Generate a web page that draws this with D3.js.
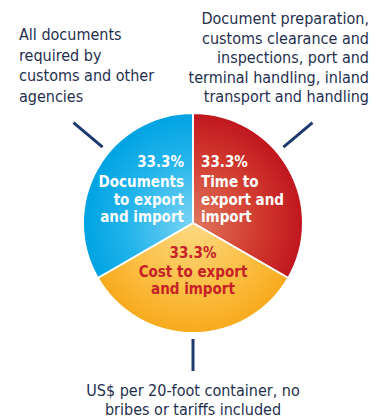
<!DOCTYPE html>
<html>
<head>
<meta charset="utf-8">
<script src="https://cdn.jsdelivr.net/npm/d3@7"></script>
<style>
  html, body { margin: 0; padding: 0; background: #fff; }
  svg { display: block; }
  .note { font-family: "DejaVu Sans Condensed", "DejaVu Sans", sans-serif; font-stretch: condensed; fill: #1f2f4e; font-size: 16px; }
  .slice-label { font-family: "DejaVu Sans Condensed", "DejaVu Sans", sans-serif; font-stretch: condensed; font-weight: bold; font-size: 15px; }
</style>
</head>
<body>
<svg id="chart" width="380" height="418"></svg>
<script>
// Three equally weighted components of the trading-across-borders indicator
const categories = ["Time to export and import", "Cost to export and import", "Documents to export and import"];
const shares = [33.3, 33.3, 33.3];
const sliceLines = [
  ["Time to", "export and", "import"],
  ["Cost to export", "and import"],
  ["Documents", "to export", "and import"]
];
const notes = [
  ["Document preparation,", "customs clearance and", "inspections, port and", "terminal handling, inland", "transport and handling"],
  ["US$ per 20-foot container, no", "bribes or tariffs included"],
  ["All documents", "required by", "customs and other", "agencies"]
];

const W = 380, H = 418;
const cx = 193, cy = 223, R = 110;

const svg = d3.select("#chart");
const defs = svg.append("defs");

// Radial shading per slice: lighter near the hub, saturated at the rim.
// Gradients live in the pie group's coordinates, so the hub is at (0, 0).
const palettes = [
  { id: "g-time", inner: "#e0765c", mid: "#d13a2e", outer: "#c0161f", text: "#ffffff" },
  { id: "g-cost", inner: "#fcd983", mid: "#fbbf45", outer: "#f8aa1c", text: "#c62127" },
  { id: "g-docs", inner: "#7ad3f4", mid: "#22b4eb", outer: "#00a3e3", text: "#ffffff" }
];
palettes.forEach(p => {
  const g = defs.append("radialGradient")
    .attr("id", p.id)
    .attr("gradientUnits", "userSpaceOnUse")
    .attr("cx", 0).attr("cy", 0).attr("r", R);
  g.append("stop").attr("offset", "0%").attr("stop-color", p.inner);
  g.append("stop").attr("offset", "60%").attr("stop-color", p.mid);
  g.append("stop").attr("offset", "100%").attr("stop-color", p.outer);
});

const pie = d3.pie().sort(null).value(d => d);
const arcs = pie(shares);
const arc = d3.arc().innerRadius(0).outerRadius(R);

const g = svg.append("g").attr("transform", `translate(${cx},${cy})`);

g.selectAll("path.slice")
  .data(arcs)
  .join("path")
  .attr("class", "slice")
  .attr("d", arc)
  .attr("fill", (d, i) => `url(#${palettes[i].id})`)
  .attr("stroke", "#ffffff")
  .attr("stroke-width", 2)
  .attr("stroke-linejoin", "round");

// In-slice labels: percentage followed by the category name
const fmt = v => v.toFixed(1) + "%";
const labelLayout = [
  { anchor: "start", dx: 8, dy: -56 },
  { anchor: "middle", dx: 0, dy: 35 },
  { anchor: "end", dx: -9, dy: -56 }
];
const lineSteps = [
  [0, 19.5, 37.5, 55],
  [0, 18.5, 35.5],
  [0, 19.5, 37.5, 55]
];
arcs.forEach((a, i) => {
  const L = labelLayout[i];
  const t = g.append("text")
    .attr("class", "slice-label")
    .attr("text-anchor", L.anchor)
    .attr("fill", palettes[i].text);
  const lines = [fmt(a.data)].concat(sliceLines[i]);
  lines.forEach((s, k) => {
    t.append("tspan").attr("x", L.dx).attr("y", L.dy + lineSteps[i][k]).text(s);
  });
});

// Leader lines running outward from each slice to its note
const leaderAngles = [50, 180, -50].map(d => d * Math.PI / 180);
const leaderInner = [R + 8, R + 6, R + 8];
const leaderOuter = [R + 46, R + 38, R + 46];
leaderAngles.forEach((ang, i) => {
  const p0 = d3.pointRadial(ang, leaderInner[i]);
  const p1 = d3.pointRadial(ang, leaderOuter[i]);
  g.append("line")
    .attr("x1", p0[0]).attr("y1", p0[1])
    .attr("x2", p1[0]).attr("y2", p1[1])
    .attr("stroke", "#1f3a6e")
    .attr("stroke-width", 3);
});

// Explanatory notes
const noteLayout = [
  { x: 369, y: 24, anchor: "end", step: 19.5 },
  { x: 193, y: 396, anchor: "middle", step: 19 },
  { x: 19, y: 40, anchor: "start", step: 20.5 }
];
notes.forEach((lines, i) => {
  const L = noteLayout[i];
  const t = svg.append("text")
    .attr("class", "note")
    .attr("text-anchor", L.anchor);
  lines.forEach((s, k) => {
    t.append("tspan").attr("x", L.x).attr("y", L.y + k * L.step).text(s);
  });
});
</script>
</body>
</html>
